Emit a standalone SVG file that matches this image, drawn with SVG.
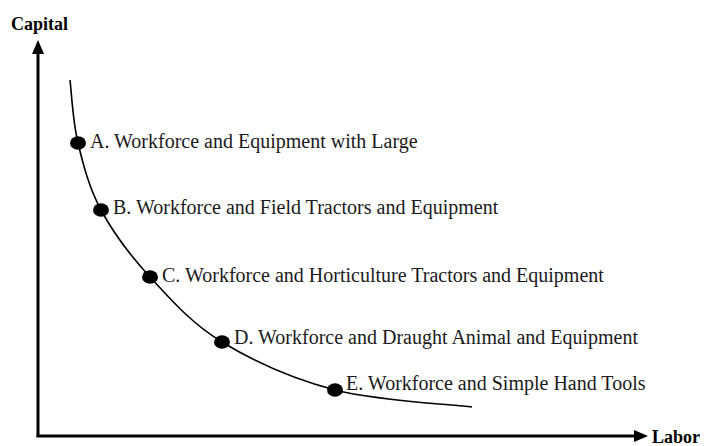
<svg xmlns="http://www.w3.org/2000/svg" width="707" height="446" viewBox="0 0 707 446">
<style>
.lbl{font-family:"Liberation Serif","Times New Roman",serif;font-size:20px;fill:#1a1a1a}
.ax{font-family:"Liberation Serif","Times New Roman",serif;font-size:18px;font-weight:bold;fill:#000}
.dot{fill:#000}
</style>
<rect width="707" height="446" fill="#fff"/>
<g id="axes">
<line x1="38" y1="437" x2="38" y2="52" stroke="#000" stroke-width="3"/>
<polygon points="38,40 32,54 44,54" fill="#000"/>
<line x1="36.5" y1="436" x2="636" y2="436" stroke="#000" stroke-width="3"/>
<polygon points="648,436 634,430 634,442" fill="#000"/>
<text class="ax" x="11" y="30">Capital</text>
<text class="ax" x="652" y="443">Labor</text>
</g>
<g id="connectors">
<path d="M70,80 C71.3,90.5 72.8,121.3 78,143 C83.2,164.7 89,187.7 101,210 C113,232.3 129.8,255 150,277 C170.2,299 191.2,323.2 222,342 C252.8,360.8 293.3,379.2 335,390 C376.7,400.8 449.2,404.2 472,407" fill="none" stroke="#000" stroke-width="1.6"/>
</g>
<g id="nodeA"><ellipse class="dot" cx="78" cy="143" rx="8" ry="6.8"/><text class="lbl" x="90" y="148">A. Workforce and Equipment with Large</text></g>
<g id="nodeB"><ellipse class="dot" cx="101" cy="210" rx="8" ry="6.8"/><text class="lbl" x="113" y="214">B. Workforce and Field Tractors and Equipment</text></g>
<g id="nodeC"><ellipse class="dot" cx="150" cy="277" rx="8" ry="6.8"/><text class="lbl" x="162" y="282">C. Workforce and Horticulture Tractors and Equipment</text></g>
<g id="nodeD"><ellipse class="dot" cx="222" cy="342" rx="8" ry="6.8"/><text class="lbl" x="234" y="344">D. Workforce and Draught Animal and Equipment</text></g>
<g id="nodeE"><ellipse class="dot" cx="335" cy="390" rx="8" ry="6.8"/><text class="lbl" x="346" y="390">E. Workforce and Simple Hand Tools</text></g>
</svg>
